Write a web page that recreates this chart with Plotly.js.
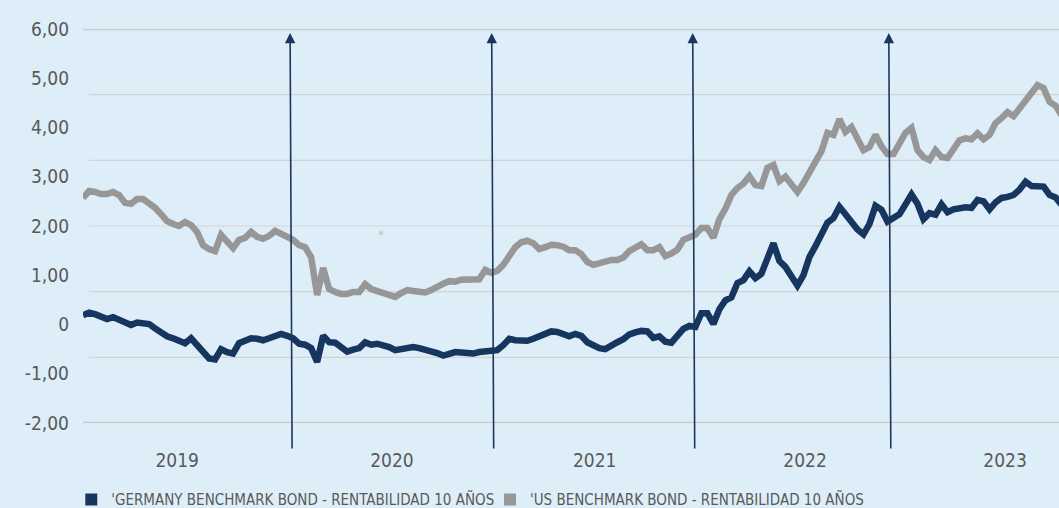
<!DOCTYPE html>
<html><head><meta charset="utf-8">
<script src="https://cdn.plot.ly/plotly-3.0.1.min.js"></script>
<style>html,body{margin:0;padding:0;background:#deeef8;}#chart{width:1059px;height:508px;}</style>
</head><body><div id="chart"></div>
<script>
const seriesNames = ["'GERMANY BENCHMARK BOND - RENTABILIDAD 10 AÑOS", "'US BENCHMARK BOND - RENTABILIDAD 10 AÑOS"];
const firstDate = '2018-12-21';
const stepDays = 10.9;
const germany = [
 0.19, 0.24, 0.21, 0.16, 0.11, 0.15, 0.09, 0.05, -0.01, 0.04,
 0.03, 0.01, -0.08, -0.16, -0.24, -0.28, -0.34, -0.38, -0.28, -0.42,
 -0.58, -0.69, -0.71, -0.50, -0.56, -0.59, -0.38, -0.33, -0.28, -0.29,
 -0.32, -0.28, -0.24, -0.19, -0.23, -0.28, -0.39, -0.41, -0.48, -0.76,
 -0.23, -0.36, -0.37, -0.45, -0.55, -0.51, -0.48, -0.36, -0.41, -0.39,
 -0.41, -0.46, -0.52, -0.50, -0.46, -0.46, -0.48, -0.51, -0.52, -0.58,
 -0.63, -0.58, -0.56, -0.57, -0.59, -0.59, -0.56, -0.55, -0.54, -0.52,
 -0.42, -0.29, -0.32, -0.33, -0.33, -0.29, -0.23, -0.20, -0.14, -0.15,
 -0.19, -0.24, -0.19, -0.23, -0.36, -0.43, -0.48, -0.50, -0.42, -0.36,
 -0.30, -0.20, -0.16, -0.13, -0.14, -0.27, -0.24, -0.35, -0.37, -0.25,
 -0.09, -0.03, -0.05, 0.23, 0.23, 0.01, 0.31, 0.49, 0.55, 0.84,
 0.90, 1.08, 0.94, 1.03, 1.37, 1.65, 1.29, 1.17, 0.98, 0.79,
 1.00, 1.37, 1.59, 1.82, 2.07, 2.16, 2.39, 2.24, 2.07, 1.93,
 1.83, 2.04, 2.41, 2.33, 2.09, 2.17, 2.24, 2.44, 2.64, 2.45,
 2.14, 2.26, 2.23, 2.44, 2.28, 2.34, 2.37, 2.38, 2.37, 2.53,
 2.50, 2.34, 2.48, 2.57, 2.59, 2.63, 2.74, 2.90, 2.81, 2.81,
 2.80, 2.63, 2.58, 2.43
];
const us = [
 2.57, 2.71, 2.69, 2.65, 2.65, 2.69, 2.63, 2.47, 2.45, 2.55,
 2.55, 2.47, 2.37, 2.24, 2.10, 2.04, 2.00, 2.08, 2.02, 1.88,
 1.61, 1.53, 1.49, 1.82, 1.67, 1.55, 1.72, 1.76, 1.88, 1.78,
 1.74, 1.80, 1.90, 1.84, 1.80, 1.72, 1.61, 1.57, 1.37, 0.60,
 1.15, 0.72, 0.66, 0.62, 0.62, 0.66, 0.66, 0.82, 0.72, 0.68,
 0.64, 0.60, 0.56, 0.64, 0.70, 0.68, 0.66, 0.65, 0.70, 0.78,
 0.83, 0.88, 0.87, 0.91, 0.92, 0.92, 0.92, 1.11, 1.05, 1.09,
 1.21, 1.39, 1.57, 1.67, 1.70, 1.65, 1.53, 1.57, 1.62, 1.61,
 1.58, 1.51, 1.51, 1.43, 1.27, 1.21, 1.25, 1.27, 1.31, 1.31,
 1.36, 1.49, 1.57, 1.63, 1.51, 1.51, 1.57, 1.39, 1.44, 1.52,
 1.72, 1.78, 1.82, 1.96, 1.96, 1.76, 2.14, 2.35, 2.63, 2.77,
 2.86, 3.01, 2.83, 2.81, 3.18, 3.24, 2.91, 3.00, 2.85, 2.69,
 2.87, 3.10, 3.32, 3.52, 3.89, 3.85, 4.17, 3.91, 4.01, 3.75,
 3.54, 3.60, 3.85, 3.62, 3.46, 3.46, 3.71, 3.89, 3.99, 3.54,
 3.40, 3.34, 3.54, 3.40, 3.38, 3.58, 3.74, 3.78, 3.76, 3.88,
 3.76, 3.85, 4.09, 4.19, 4.31, 4.23, 4.38, 4.56, 4.68, 4.86,
 4.80, 4.52, 4.44, 4.25
];
const yearLabels = ['2019', '2020', '2021', '2022', '2023'];
const yearLabelDates = ['2019-06-10', '2020-07-04', '2021-07-07', '2022-07-24', '2023-07-22'];
const yTickVals = [-2, -1, 0, 1, 2, 3, 4, 5, 6];
const yTickText = ['-2,00', '-1,00', '0', '1,00', '2,00', '3,00', '4,00', '5,00', '6,00'];
const arrowDates = ['2020-01-01', '2021-01-01', '2022-01-01', '2022-12-23'];
const strayDates = ['2020-06-14'];
const strayValues = [1.86];
const xRange = ['2018-12-21', '2023-10-28'];

const DARK = '#17365f', GREY = '#979797', TXT = '#595959', BG = '#deeef8';
const FONT = 'DejaVu Sans Condensed, sans-serif';

function sampleDates(n) {
  const t0 = Date.parse(firstDate + 'T00:00:00Z');
  return Array.from({length: n}, (_, k) => new Date(t0 + k * stepDays * 86400000).toISOString().slice(0, 19).replace('T', ' '));
}

const traces = [
  {type: 'scatter', mode: 'lines', x: sampleDates(us.length), y: us, name: seriesNames[1],
   line: {color: GREY, width: 6.5}, showlegend: false, hoverinfo: 'skip'},
  {type: 'scatter', mode: 'lines', x: sampleDates(germany.length), y: germany, name: seriesNames[0],
   line: {color: DARK, width: 6.5}, showlegend: false, hoverinfo: 'skip'},
  {type: 'scatter', mode: 'markers', x: strayDates, y: strayValues, showlegend: false,
   marker: {symbol: 'square', size: 4, color: '#c9cfd4'}, hoverinfo: 'skip'},
  {type: 'bar', x: [null], y: [null], name: seriesNames[0], marker: {color: DARK}, legend: 'legend'},
  {type: 'bar', x: [null], y: [null], name: seriesNames[1], marker: {color: GREY}, legend: 'legend2'}
];

const gridVals = Array.from({length: 7}, (_, i) => -2 + i * 8 / 6);
const shapes = gridVals.map((v, i) => {
  const edge = (i === 0 || i === gridVals.length - 1);
  return {type: 'line', xref: 'paper', yref: 'y', x0: edge ? 0 : 6 / 976, x1: 1, y0: v, y1: v,
          line: {color: edge ? '#c9c9c9' : '#d3d3d3', width: edge ? 2.5 : 1.2}, layer: 'below'};
});

const annotations = arrowDates.map(d => ({
  x: d, y: 5.92, xref: 'x', yref: 'y', text: '', showarrow: true,
  ax: 2, ay: 417, axref: 'pixel', ayref: 'pixel',
  arrowhead: 2, arrowsize: 1.3, arrowwidth: 1.6, arrowcolor: '#1b365d'
}));

const legendFont = {family: FONT, size: 15, color: TXT};
const layout = {
  width: 1059, height: 508, autosize: false,
  margin: {l: 83, r: 0, t: 29, b: 85, pad: 0, autoexpand: false},
  paper_bgcolor: BG, plot_bgcolor: BG,
  font: {family: FONT, color: TXT},
  xaxis: {type: 'date', range: xRange, showgrid: false, zeroline: false, showline: false,
          ticks: '', tickmode: 'array', tickvals: yearLabelDates, ticktext: yearLabels,
          tickfont: {family: FONT, size: 19, color: TXT}, ticklabelstandoff: 24, fixedrange: true},
  yaxis: {range: [-2, 6], showgrid: false, zeroline: false, showline: false, ticks: '',
          tickmode: 'array', tickvals: yTickVals, ticktext: yTickText,
          tickfont: {family: FONT, size: 19, color: TXT}, ticklabelstandoff: 13, fixedrange: true},
  showlegend: true,
  legend: {orientation: 'h', x: -0.012, xanchor: 'left', y: -0.153, yanchor: 'top',
           bgcolor: 'rgba(0,0,0,0)', font: legendFont},
  legend2: {orientation: 'h', x: 0.417, xanchor: 'left', y: -0.153, yanchor: 'top',
            bgcolor: 'rgba(0,0,0,0)', font: legendFont},
  shapes: shapes,
  annotations: annotations
};

Plotly.newPlot('chart', traces, layout, {staticPlot: true, displayModeBar: false});
</script>
</body></html>
